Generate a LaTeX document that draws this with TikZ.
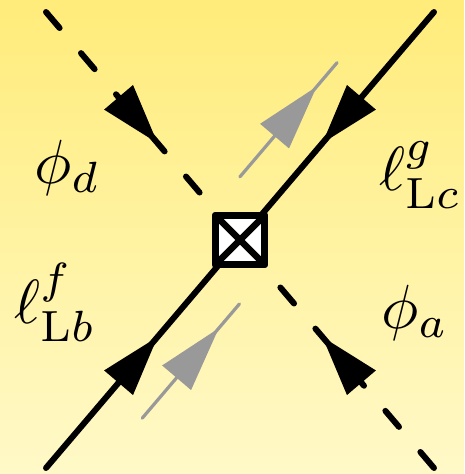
\documentclass[tikz,border=0pt]{standalone}
\usetikzlibrary{calc}
\definecolor{bgtop}{RGB}{255,236,122}
\definecolor{bgbot}{RGB}{255,249,200}
\definecolor{flowgray}{RGB}{153,153,153}
\begin{document}
\begin{tikzpicture}[x=0.25pt,y=-0.25pt,
  leg/.style={line width=1.5pt, line cap=round},
  dashleg/.style={leg, dash pattern=on 5.25pt off 8.25pt},
  head/.style={fill=black},
  ghead/.style={fill=flowgray},
  flow/.style={draw=flowgray, line width=0.8pt, line cap=round},
  vertexbox/.style={draw, line width=1.75pt, line join=round, fill=white,
     minimum size=12.25pt, inner sep=0pt, outer sep=0pt},
  lab/.style={anchor=base west, inner sep=0pt, scale=1.56, transform shape}]
\shade[top color=bgtop, bottom color=bgbot] (0,0) rectangle (464,474);
\useasboundingbox (0,0) rectangle (464,474);
\coordinate (C) at (240,240);
\coordinate (TL) at (46,12);
\coordinate (TR) at (434,12);
\coordinate (BL) at (46,468);
\coordinate (BR) at (434,468);
% legs
\draw[dashleg] (TL) -- (C);
\draw[dashleg] (BR) -- (C);
\draw[leg] (TR) -- (BL);
% arrowheads on the legs
\foreach \e in {TL,BR,TR,BL} {
  \coordinate (tip) at ($(\e)!0.5745!(C)$);
  \coordinate (base) at ($(\e)!0.374!(C)$);
  \fill[head] ($(base)!4.75pt!90:(tip)$) -- (tip) -- ($(base)!4.75pt!-90:(tip)$) -- cycle;
}
% momentum flow arrows
\coordinate (g1s) at ($(C)!0.1603!(TR) + (-31.2,-26.6)$);
\coordinate (g1e) at ($(C)!0.6613!(TR) + (-31.2,-26.6)$);
\coordinate (g1t) at ($(C)!0.5561!(TR) + (-31.2,-26.6)$);
\coordinate (g1b) at ($(C)!0.339!(TR) + (-31.2,-26.6)$);
\draw[flow] (g1s) -- (g1e);
\fill[ghead] ($(g1b)!4.75pt!90:(g1t)$) -- (g1t) -- ($(g1b)!4.75pt!-90:(g1t)$) -- cycle;
\coordinate (g2s) at ($(C)!0.6647!(BL) + (31.2,26.6)$);
\coordinate (g2e) at ($(C)!0.1637!(BL) + (31.2,26.6)$);
\coordinate (g2t) at ($(C)!0.2705!(BL) + (31.2,26.6)$);
\coordinate (g2b) at ($(C)!0.4876!(BL) + (31.2,26.6)$);
\draw[flow] (g2s) -- (g2e);
\fill[ghead] ($(g2b)!4.75pt!90:(g2t)$) -- (g2t) -- ($(g2b)!4.75pt!-90:(g2t)$) -- cycle;
% vertex
\node[vertexbox] (V) at (C) {};
\draw[line width=1.6pt] (V.north west) -- (V.south east);
\draw[line width=1.6pt] (V.north east) -- (V.south west);
\draw[line width=1.75pt, line join=round] (V.north west) rectangle (V.south east);
% labels
\node[lab] (phid) at (33,183) {$\phi_d$};
\node[lab] (phia) at (380,328) {$\phi_a$};
\node[lab] (ellf) at (13,323) {$\ell^f_{\mathrm{L}b}$};
\node[lab] (ellg) at (378,190) {$\ell^g_{\mathrm{L}c}$};
\end{tikzpicture}
\end{document}
